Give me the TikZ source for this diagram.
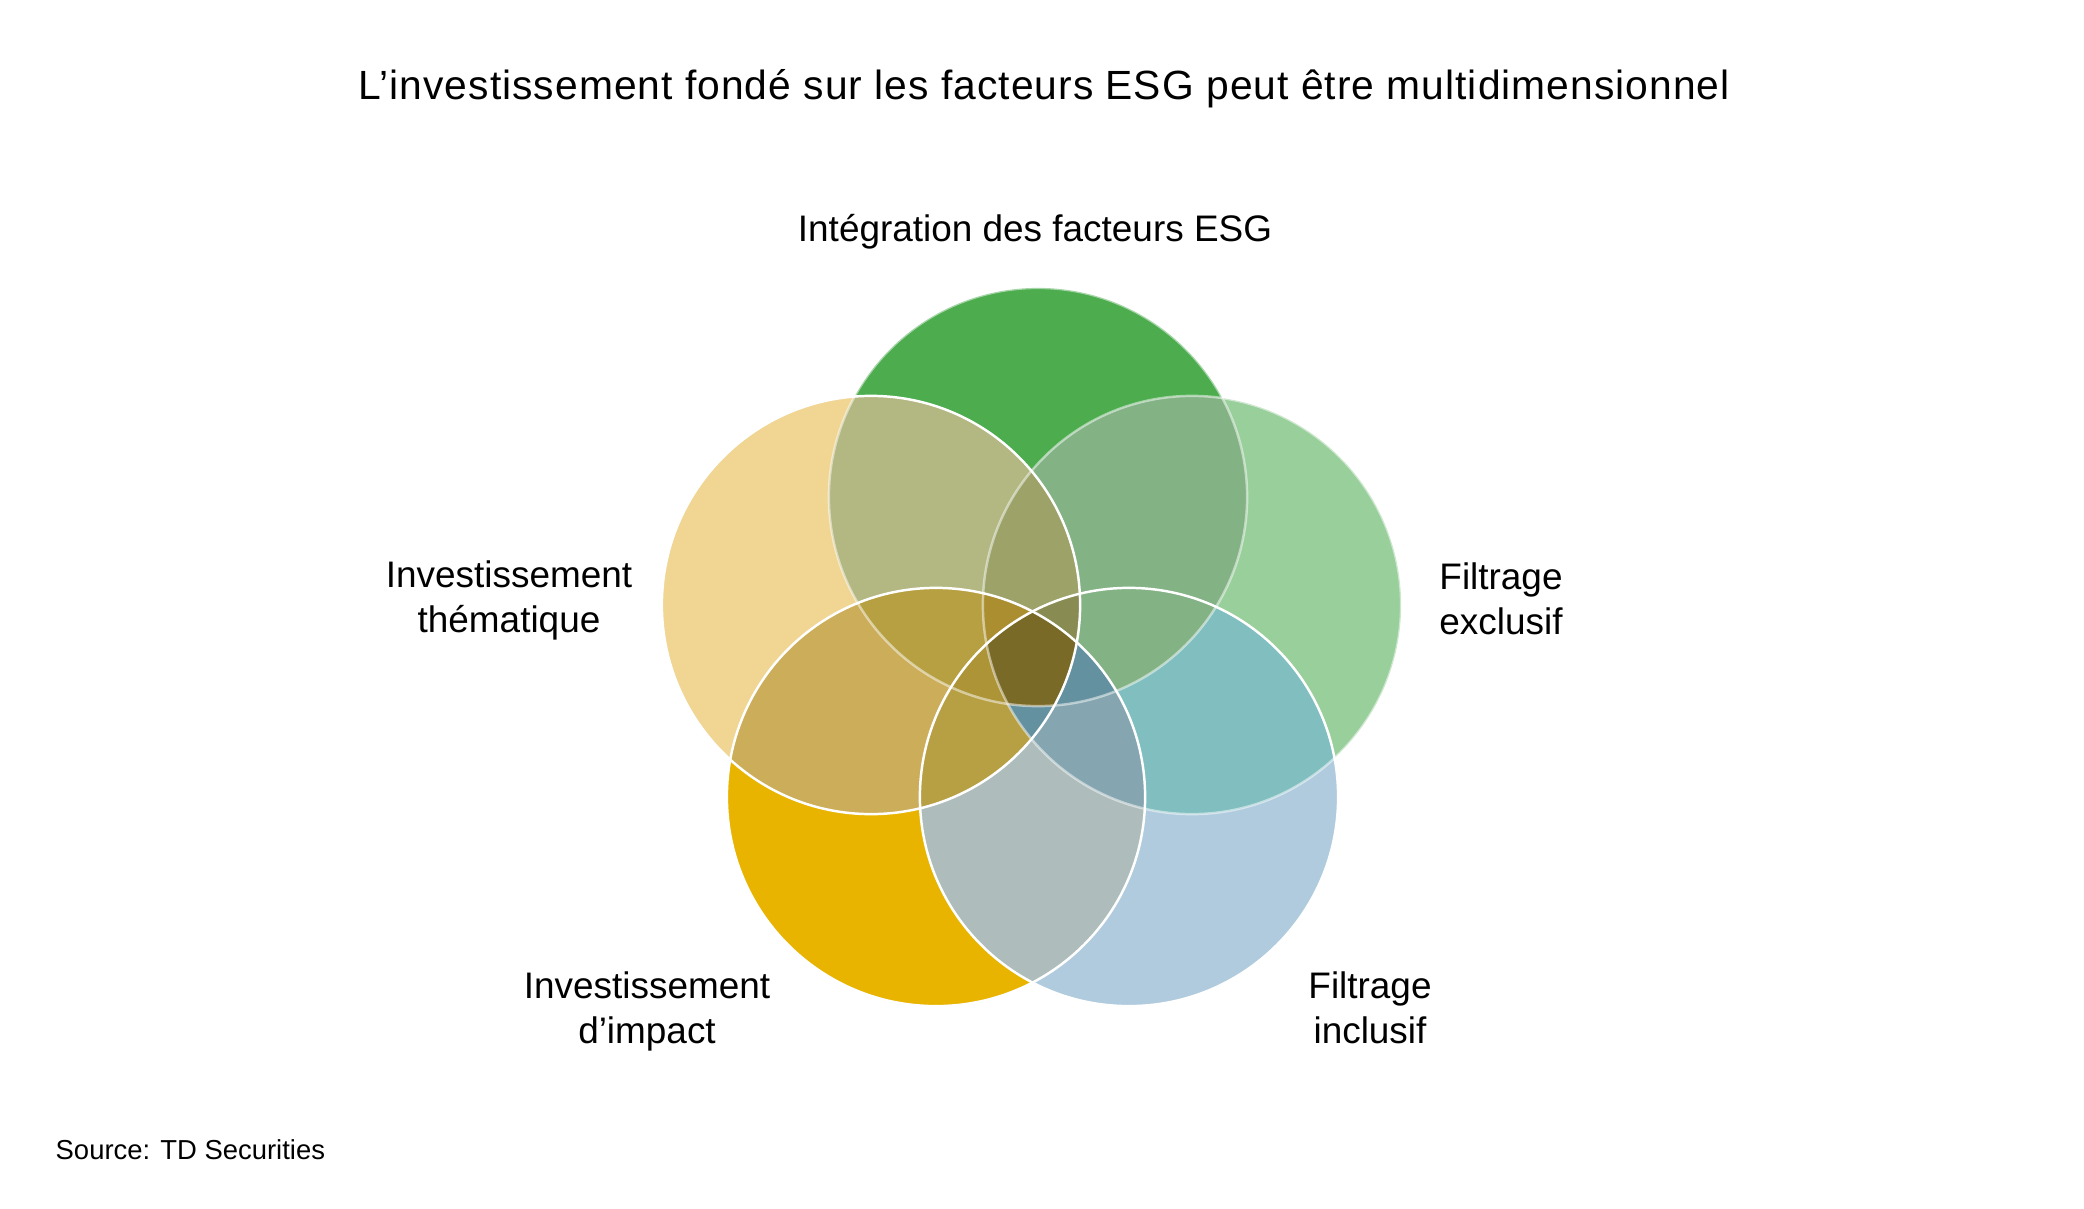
\documentclass[tikz,border=0pt]{standalone}
\usepackage{fontspec}
\setmainfont{Liberation Sans}
\newfontfamily\titlefont[LetterSpace=2.5]{Liberation Sans}

% circle colours
\definecolor{esgG}{RGB}{76,172,78}
\definecolor{esgT}{RGB}{240,213,147}
\definecolor{esgL}{RGB}{153,207,155}
\definecolor{esgY}{RGB}{232,180,0}
\definecolor{esgB}{RGB}{176,203,222}
% overlap colours
\definecolor{esgGT}{RGB}{179,184,130}
\definecolor{esgGL}{RGB}{131,178,133}
\definecolor{esgTY}{RGB}{204,173,90}
\definecolor{esgLB}{RGB}{128,190,192}
\definecolor{esgYB}{RGB}{174,189,188}
\definecolor{esgGTL}{RGB}{156,162,104}
\definecolor{esgGTY}{RGB}{182,160,66}
\definecolor{esgTYB}{RGB}{183,160,68}
\definecolor{esgLYB}{RGB}{133,166,176}
\definecolor{esgGLB}{RGB}{131,178,133}
\definecolor{esgGTLY}{RGB}{170,142,48}
\definecolor{esgGTLB}{RGB}{137,140,82}
\definecolor{esgGLYB}{RGB}{100,145,160}
\definecolor{esgTLYB}{RGB}{100,145,160}
\definecolor{esgGTYB}{RGB}{172,148,55}
\definecolor{esgAll}{RGB}{122,106,40}

\begin{document}
\begin{tikzpicture}[x=0.01cm,y=-0.01cm,
    catlabel/.style={inner sep=0pt,font=\fontsize{10.5}{12.8}\selectfont},
    ring/.style={draw=white,line width=0.7pt}]
					% Canvas
					\useasboundingbox (0,0) rectangle (2084,1209);
					\fill[white] (0,0) rectangle (2084,1209);
					\def\rr{2.09cm}
					
					% Circle centres
					\coordinate (cG) at (1038,497);
					\coordinate (cT) at (871,605);
					\coordinate (cL) at (1192,605);
					\coordinate (cY) at (936,797);
					\coordinate (cB) at (1129,797);
					
					% Draw the five filled circles
					\foreach \one in {G,T,L,Y,B}
						\fill[fill=esg\one] (c\one) circle[radius=\rr];
					
					% Two-way overlaps
					\foreach \one/\two/\col in {G/T/esgGT,G/L/esgGL,T/Y/esgTY,L/B/esgLB,Y/B/esgYB}{
						\begin{scope}
							\clip (c\one) circle[radius=\rr];
							\fill[fill=\col] (c\two) circle[radius=\rr];
						\end{scope}}
					
					% Three-way overlaps
					\foreach \one/\two/\three/\col in {G/T/L/esgGTL,G/T/Y/esgGTY,T/Y/B/esgTYB,L/Y/B/esgLYB,G/L/B/esgGLB}{
						\begin{scope}
							\clip (c\one) circle[radius=\rr];
							\clip (c\two) circle[radius=\rr];
							\fill[fill=\col] (c\three) circle[radius=\rr];
						\end{scope}}
					
					% Four-way overlaps
					\foreach \one/\two/\three/\four/\col in {G/T/L/Y/esgGTLY,G/T/L/B/esgGTLB,G/L/Y/B/esgGLYB,T/L/Y/B/esgTLYB,G/T/Y/B/esgGTYB}{
						\begin{scope}
							\clip (c\one) circle[radius=\rr];
							\clip (c\two) circle[radius=\rr];
							\clip (c\three) circle[radius=\rr];
							\fill[fill=\col] (c\four) circle[radius=\rr];
						\end{scope}}
					
					% Centre, inside all five
					\begin{scope}
						\clip (cG) circle[radius=\rr];
						\clip (cT) circle[radius=\rr];
						\clip (cL) circle[radius=\rr];
						\clip (cY) circle[radius=\rr];
						\fill[esgAll] (cB) circle[radius=\rr];
					\end{scope}
					
					% White outlines
					\foreach \one/\op in {G/0.5,L/0.5,Y/1,B/1,T/1}
						\draw[ring,draw opacity=\op] (c\one) circle[radius=\rr];
					
					% Title and labels
					\node[inner sep=0pt,anchor=base,font=\titlefont\fontsize{11.6}{14}\selectfont] (title) at (1044,99) {L’investissement fondé sur les facteurs ESG peut être multidimensionnel};
					\node[catlabel,anchor=base] (integration) at (1035,241) {Intégration des facteurs ESG};
					\node[catlabel,align=center] (thematique) at (509,600) {Investissement\\thématique};
					\node[catlabel,align=center] (exclusif) at (1501,599) {Filtrage\\exclusif};
					\node[catlabel,align=center] (impact) at (647,1011) {Investissement\\d’impact};
					\node[catlabel,align=center] (inclusif) at (1370,1008) {Filtrage\\inclusif};
					\node[inner sep=0pt,anchor=base west,font=\fontsize{7.8}{9}\selectfont] (source) at (55,1159) {Source: TD Securities};
				\end{tikzpicture}
\end{document}
